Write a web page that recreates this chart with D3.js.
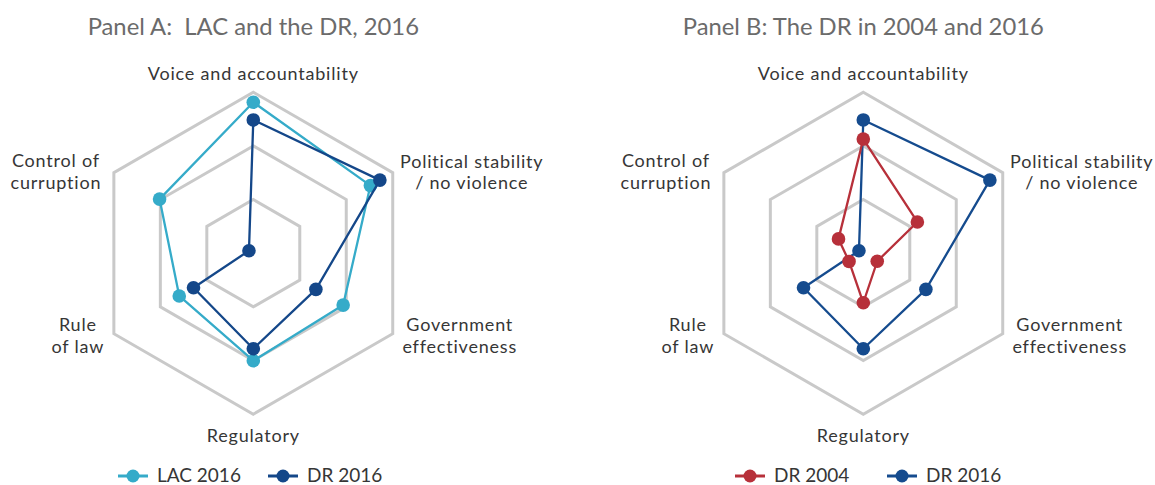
<!DOCTYPE html>
<html>
<head>
<meta charset="utf-8">
<script src="https://cdn.jsdelivr.net/npm/d3@7"></script>
<style>
  html, body { margin: 0; padding: 0; background: #ffffff; }
  svg { display: block; }
  text { font-family: Lato, "Open Sans", sans-serif; white-space: pre; }
</style>
</head>
<body>
<svg id="chart" width="1155" height="485"></svg>
<script>
// ---------- DATA ----------
const axes = ["Voice and accountability", "Political stability / no violence", "Government effectiveness", "Regulatory", "Rule of law", "Control of curruption"];
const axisLabelLines = [
  ["Voice and accountability"],
  ["Political stability", "/ no violence"],
  ["Government", "effectiveness"],
  ["Regulatory"],
  ["Rule", "of law"],
  ["Control of", "curruption"]
];
const ringLevels = [30, 60, 90];
const scaleMax = 90;

const lac2016 = [84.4, 75.6, 58.0, 60.1, 47.8, 60.5];
const dr2016  = [74.5, 81.7, 40.4, 53.4, 38.6, 2.8];
const dr2004  = [63.8, 34.9, 9.0, 27.7, 9.2, 16.0];

const panelTitles = ["Panel A:  LAC and the DR, 2016", "Panel B: The DR in 2004 and 2016"];
const panelASeries = [
  { name: "LAC 2016", values: lac2016, color: "#35abc9" },
  { name: "DR 2016",  values: dr2016,  color: "#144789" }
];
const panelBSeries = [
  { name: "DR 2016",  values: dr2016,  color: "#154b8e" },
  { name: "DR 2004",  values: dr2004,  color: "#b7303a" }
];
const panelBLegendOrder = ["DR 2004", "DR 2016"];

// ---------- LAYOUT ----------
const svg = d3.select("#chart");
const R = 161;
const rScale = d3.scaleLinear().domain([0, scaleMax]).range([0, R]);
const angle = d3.scalePoint().domain(axes).range([-Math.PI / 2, -Math.PI / 2 + 2 * Math.PI * 5 / 6]);

const labelFont = 18;
const lineGap = 21.6;
// label offsets relative to outer vertex (x offset, baseline of first line)
const labelOffsets = [
  { dx: 0,   dy: -12 },
  { dx: 79,  dy: -5 },
  { dx: 67,  dy: -2.5 },
  { dx: 0,   dy: 28 },
  { dx: -36, dy: -2.5 },
  { dx: -58, dy: -5.8 }
];

function pt(axis, v) {
  const a = angle(axis);
  const r = rScale(v);
  return [r * Math.cos(a), r * Math.sin(a)];
}

function drawPanel(cx, cy, title, series, legendItems, legendXs) {
  const g = svg.append("g").attr("transform", `translate(${cx},${cy})`);

  // title
  svg.append("text")
    .attr("x", cx).attr("y", 35)
    .attr("text-anchor", "middle")
    .attr("font-size", 23.8)
    .attr("fill", "#6b6b6b")
    .attr("xml:space", "preserve")
    .text(title);

  // rings
  const ringLine = d3.line();
  ringLevels.forEach(lv => {
    const pts = axes.map(a => pt(a, lv));
    g.append("path")
      .attr("d", ringLine(pts) + "Z")
      .attr("fill", "none")
      .attr("stroke", "#c9c9c9")
      .attr("stroke-width", 3)
      .attr("stroke-linejoin", "miter");
  });

  // axis labels
  axes.forEach((a, i) => {
    const [vx, vy] = pt(a, scaleMax);
    const t = svg.append("text")
      .attr("text-anchor", "middle")
      .attr("font-size", labelFont)
      .attr("letter-spacing", 0.8)
      .attr("fill", "#363636");
    axisLabelLines[i].forEach((ln, j) => {
      t.append("tspan")
        .attr("x", cx + vx + labelOffsets[i].dx)
        .attr("y", cy + vy + labelOffsets[i].dy + j * lineGap)
        .text(ln);
    });
  });

  // series
  const line = d3.line();
  series.forEach(s => {
    const pts = axes.map((a, i) => pt(a, s.values[i]));
    g.append("path")
      .attr("d", line(pts) + "Z")
      .attr("fill", "none")
      .attr("stroke", s.color)
      .attr("stroke-width", 2.3)
      .attr("stroke-linejoin", "round");
    g.selectAll(null).data(pts).enter().append("circle")
      .attr("cx", d => d[0]).attr("cy", d => d[1])
      .attr("r", 6.8)
      .attr("fill", s.color);
  });

  // legend
  legendItems.forEach((s, i) => {
    const lg = svg.append("g").attr("transform", `translate(${legendXs[i]},476)`);
    lg.append("line").attr("x1", 0).attr("x2", 30).attr("y1", 0).attr("y2", 0)
      .attr("stroke", s.color).attr("stroke-width", 3);
    lg.append("circle").attr("cx", 15).attr("cy", 0).attr("r", 6.5).attr("fill", s.color);
    lg.append("text").attr("x", 39).attr("y", 6)
      .attr("font-size", 19).attr("fill", "#363636").text(s.name);
  });
}

drawPanel(253.3, 253.2, panelTitles[0], panelASeries, panelASeries, [118, 268]);
drawPanel(863.3, 253.2, panelTitles[1], panelBSeries,
  panelBLegendOrder.map(n => panelBSeries.find(s => s.name === n)), [735, 887]);
</script>
</body>
</html>
